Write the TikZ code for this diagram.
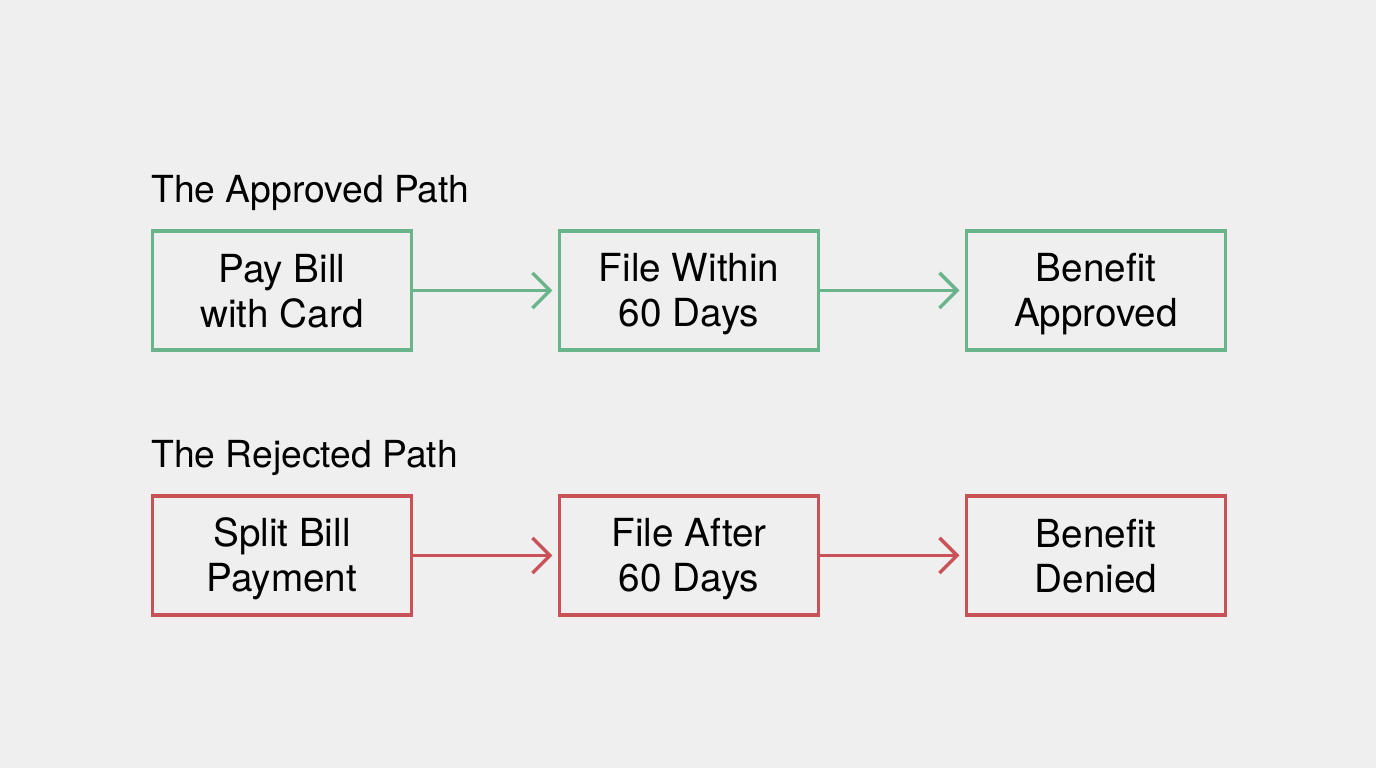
\documentclass[tikz,border=0pt]{standalone}
\usepackage{fontspec}
\setmainfont{TeX Gyre Heros}
\usepackage{xcolor}
\usetikzlibrary{arrows.meta, positioning, calc}
\definecolor{okgreen}{RGB}{106,180,140}
\definecolor{badred}{RGB}{200,82,88}
\definecolor{paper}{RGB}{239,239,239}
\newcommand{\lnstrut}{\rule[-2pt]{0pt}{12pt}}
\tikzset{
	step_ok/.style={rectangle, draw=okgreen, fill=paper, line width=1pt, minimum width=2.59cm, minimum height=1.19cm, align=center, font=\fontsize{11}{12.8}\selectfont, inner sep=0pt},
	step_bad/.style={step_ok, draw=badred},
	conn_ok/.style={-{Straight Barb[length=5pt, width=10pt, line width=1pt]}, draw=okgreen, line width=1pt, shorten >=1.5pt},
	conn_bad/.style={conn_ok, draw=badred},
	path_title/.style={anchor=base west, font=\fontsize{10.6}{12}\selectfont, inner sep=0pt}
}

\begin{document}
\begin{tikzpicture}[node distance=1.445cm, >=latex]
	\fill[paper] (0,0) rectangle (13.76,7.68);
	\useasboundingbox (0,0) rectangle (13.76,7.68);
	% approved row
	\node[step_ok] (pay) at (2.82,4.775) {\lnstrut Pay Bill\\\lnstrut with Card};
	\node[step_ok, right=of pay] (within) {\lnstrut File Within\\\lnstrut 60 Days};
	\node[step_ok, right=of within] (approved) {\lnstrut Benefit\\\lnstrut Approved};
	\draw[conn_ok] (pay) -- (within);
	\draw[conn_ok] (within) -- (approved);
	\node[path_title] (t_ok) at ($(pay.north west)+(0,0.27)$) {The Approved Path};
	% rejected row
	\node[step_bad] (split) at (2.82,2.125) {\lnstrut Split Bill\\\lnstrut Payment};
	\node[step_bad, right=of split] (after) {\lnstrut File After\\\lnstrut 60 Days};
	\node[step_bad, right=of after] (denied) {\lnstrut Benefit\\\lnstrut Denied};
	\draw[conn_bad] (split) -- (after);
	\draw[conn_bad] (after) -- (denied);
	\node[path_title] (t_bad) at ($(split.north west)+(0,0.27)$) {The Rejected Path};
\end{tikzpicture}
\end{document}
